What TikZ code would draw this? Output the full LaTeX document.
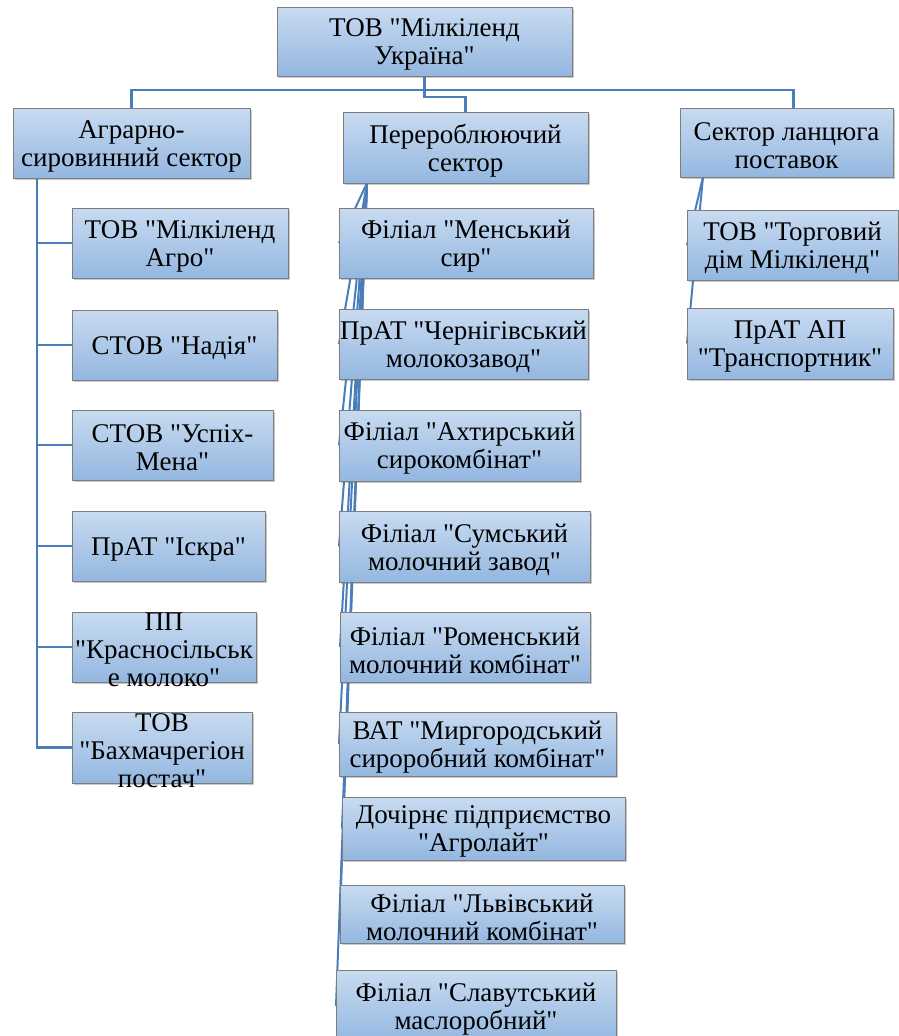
\documentclass[tikz,border=0pt]{standalone}
\usepackage{fontspec}
\setmainfont{Liberation Serif}[Ligatures=TeXOff]
\usetikzlibrary{shadows,backgrounds,calc}
\definecolor{boxtop}{RGB}{200,219,241}
\definecolor{boxbot}{RGB}{148,183,224}
\definecolor{boxline}{RGB}{125,125,125}
\definecolor{conncol}{RGB}{74,126,187}
\tikzset{
  orgbox/.style={rectangle, draw=boxline, line width=1pt, top color=boxtop, bottom color=boxbot,
    inner sep=0pt, outer sep=0pt, drop shadow={shadow xshift=2pt, shadow yshift=-2pt, opacity=0.35, fill=black!60}},
  orgtxt/.style={align=center, inner sep=0pt, yshift=-3pt, font=\fontsize{27}{28}\selectfont},
  conn/.style={draw=conncol, line width=2.6pt},
}
\newcommand\orgbx[6]{%
  \node[orgbox, minimum width={(#4-#2)*1pt}, minimum height={(#5-#3)*1pt},
        label={[orgtxt]center:{#6}}] (#1) at ({(#2+#4)/2},{(#3+#5)/2}) {};}
\begin{document}
\begin{tikzpicture}[x=1pt,y=-1pt]
\useasboundingbox (0,0) rectangle (899,1036);
\clip (0,0) rectangle (899,1036);
% top
\orgbx{top}{277}{7}{572}{76}{ТОВ "Мілкіленд\\Україна"}
% sectors
\orgbx{ag}{13}{108}{250}{178}{Аграрно-\\сировинний сектор}
\orgbx{ps}{343}{112}{588}{183}{Перероблюючий\\сектор}
\orgbx{rs}{680}{108}{893}{177}{Сектор ланцюга\\поставок}
% left column
\orgbx{a1}{72}{208}{288}{278}{ТОВ "Мілкіленд\\Агро"}
\orgbx{a2}{72}{310}{277}{380}{СТОВ "Надія"}
\orgbx{a3}{72}{410}{273}{480}{СТОВ "Успіх-\\Мена"}
\orgbx{a4}{72}{511}{265}{581}{ПрАТ "Іскра"}
\orgbx{a5}{72}{612}{256}{682}{ПП\\"Красносільськ\\е молоко"}
\orgbx{a6}{72}{712}{252}{783}{ТОВ\\"Бахмачрегіон\\постач"}
% middle column
\orgbx{m1}{339}{208}{593}{278}{Філіал "Менський\\сир"}
\orgbx{m2}{339}{309}{588}{379}{ПрАТ "Чернігівський\\молокозавод"}
\orgbx{m3}{339}{410}{580}{481}{Філіал "Ахтирський\\сирокомбінат"}
\orgbx{m4}{339}{511}{590}{582}{Філіал "Сумський\\молочний завод"}
\orgbx{m5}{340}{612}{590}{682}{Філіал "Роменський\\молочний комбінат"}
\orgbx{m6}{339}{712}{616}{776}{ВАТ "Миргородський\\сироробний комбінат"}
\orgbx{m7}{342}{797}{625}{860}{Дочірнє підприємство\\"Агролайт"}
\orgbx{m8}{340}{885}{624}{943}{Філіал "Львівський\\молочний комбінат"}
\orgbx{m9}{336}{970}{616}{1042}{Філіал "Славутський\\маслоробний"}
% right column
\orgbx{r1}{687}{210}{898}{280}{ТОВ "Торговий\\дім Мілкіленд"}
\orgbx{r2}{687}{308}{893}{379}{ПрАТ АП\\"Транспортник"}
\begin{scope}[on background layer]
  \coordinate (rsdrop) at ($(rs.north)+(7,0)$);
  \coordinate (hline) at (0,90);
  \draw[conn] (ag.north) -- (ag.north |- hline) -- (rsdrop |- hline) -- (rsdrop);
  \draw[conn] (top.south) -- ++(0,21) -| (ps.north);
  \coordinate (agb) at ($(ag.south west)+(24,0)$);
  \foreach \c in {a1,a2,a3,a4,a5,a6} \draw[conn] (agb) |- (\c.west);
  \coordinate (psb) at ($(ps.south west)+(24,0)$);
  \foreach \c in {m1,m2,m3,m4,m5,m6,m7,m8,m9} \draw[conn, line width=2pt] (psb) -- (\c.west);
  \coordinate (rsb) at ($(rs.south west)+(23,0)$);
  \foreach \c in {r1,r2} \draw[conn, line width=2pt] (rsb) -- (\c.west);
\end{scope}
\end{tikzpicture}
\end{document}
